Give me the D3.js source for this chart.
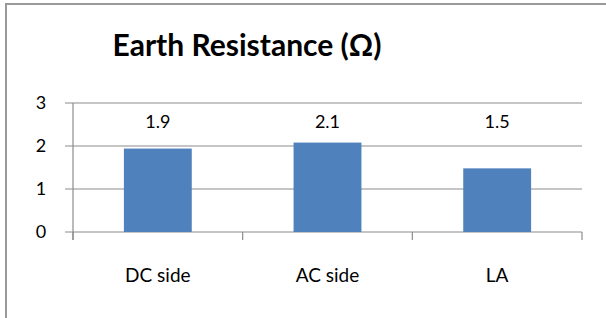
<!DOCTYPE html>
<html>
<head>
    <meta charset="utf-8">
    <title>Earth Resistance</title>
    <script src="https://cdn.jsdelivr.net/npm/d3@7"></script>
    <style>
        body { margin: 0; background: #fff; }
        text { font-family: Lato, "Open Sans", sans-serif; fill: #000; }
    </style>
</head>
<body>
<script>
    var categories = ['DC side', 'AC side', 'LA'];
    var values = [1.94, 2.08, 1.48];
    var yTicks = [0, 1, 2, 3];

    var width = 606, height = 318;
    var svg = d3.select('body').append('svg').attr('width', width).attr('height', height);

    // chart frame
    svg.append('rect')
        .attr('x', 6).attr('y', 4)
        .attr('width', width + 10).attr('height', height + 10)
        .attr('fill', 'none').attr('stroke', '#9a9a9a').attr('stroke-width', 2);

    var plot = {left: 73, right: 582, top: 103, bottom: 232};

    var x = d3.scaleBand().domain(categories).range([plot.left, plot.right]).paddingInner(0.6).paddingOuter(0.3);
    var y = d3.scaleLinear().domain([0, 3]).range([plot.bottom, plot.top]);

    // gridlines
    svg.append('g').selectAll('line').data(yTicks).enter().append('line')
        .attr('x1', plot.left - 8).attr('x2', plot.right)
        .attr('y1', function (d) { return y(d); })
        .attr('y2', function (d) { return y(d); })
        .attr('stroke', '#8c8c8c').attr('stroke-width', 1.2);

    // y axis
    svg.append('line')
        .attr('x1', plot.left).attr('x2', plot.left).attr('y1', plot.top).attr('y2', plot.bottom + 8)
        .attr('stroke', '#8c8c8c').attr('stroke-width', 1.2);

    svg.append('g').selectAll('text').data(yTicks).enter().append('text')
        .attr('x', 41).attr('y', function (d) { return y(d); })
        .attr('dy', '0.36em').attr('text-anchor', 'middle')
        .attr('font-size', 18)
        .text(function (d) { return d; });

    // category ticks at band edges
    var edges = d3.range(categories.length + 1).map(function (i) {
        return plot.left + i * (plot.right - plot.left) / categories.length;
    });
    svg.append('g').selectAll('line').data(edges).enter().append('line')
        .attr('x1', function (d) { return d; }).attr('x2', function (d) { return d; })
        .attr('y1', plot.bottom).attr('y2', plot.bottom + 8)
        .attr('stroke', '#8c8c8c').attr('stroke-width', 1.2);

    // bars
    svg.append('g').selectAll('rect').data(values).enter().append('rect')
        .attr('x', function (d, i) { return x(categories[i]); })
        .attr('y', function (d) { return y(d); })
        .attr('width', x.bandwidth())
        .attr('height', function (d) { return plot.bottom - y(d); })
        .attr('fill', '#4f81bd');

    // value labels
    svg.append('g').selectAll('text').data(values).enter().append('text')
        .attr('x', function (d, i) { return x(categories[i]) + x.bandwidth() / 2; })
        .attr('y', 128)
        .attr('text-anchor', 'middle')
        .attr('font-size', 18)
        .text(function (d) { return d3.format('.1f')(d); });

    // category labels
    svg.append('g').selectAll('text').data(categories).enter().append('text')
        .attr('x', function (d) { return x(d) + x.bandwidth() / 2; })
        .attr('y', 282)
        .attr('text-anchor', 'middle')
        .attr('font-size', 19)
        .text(function (d) { return d; });

    // title
    svg.append('text')
        .attr('x', 247).attr('y', 56)
        .attr('text-anchor', 'middle')
        .attr('font-size', 30).attr('font-weight', 'bold')
        .text('Earth Resistance (Ω)');
</script>
</body>
</html>
